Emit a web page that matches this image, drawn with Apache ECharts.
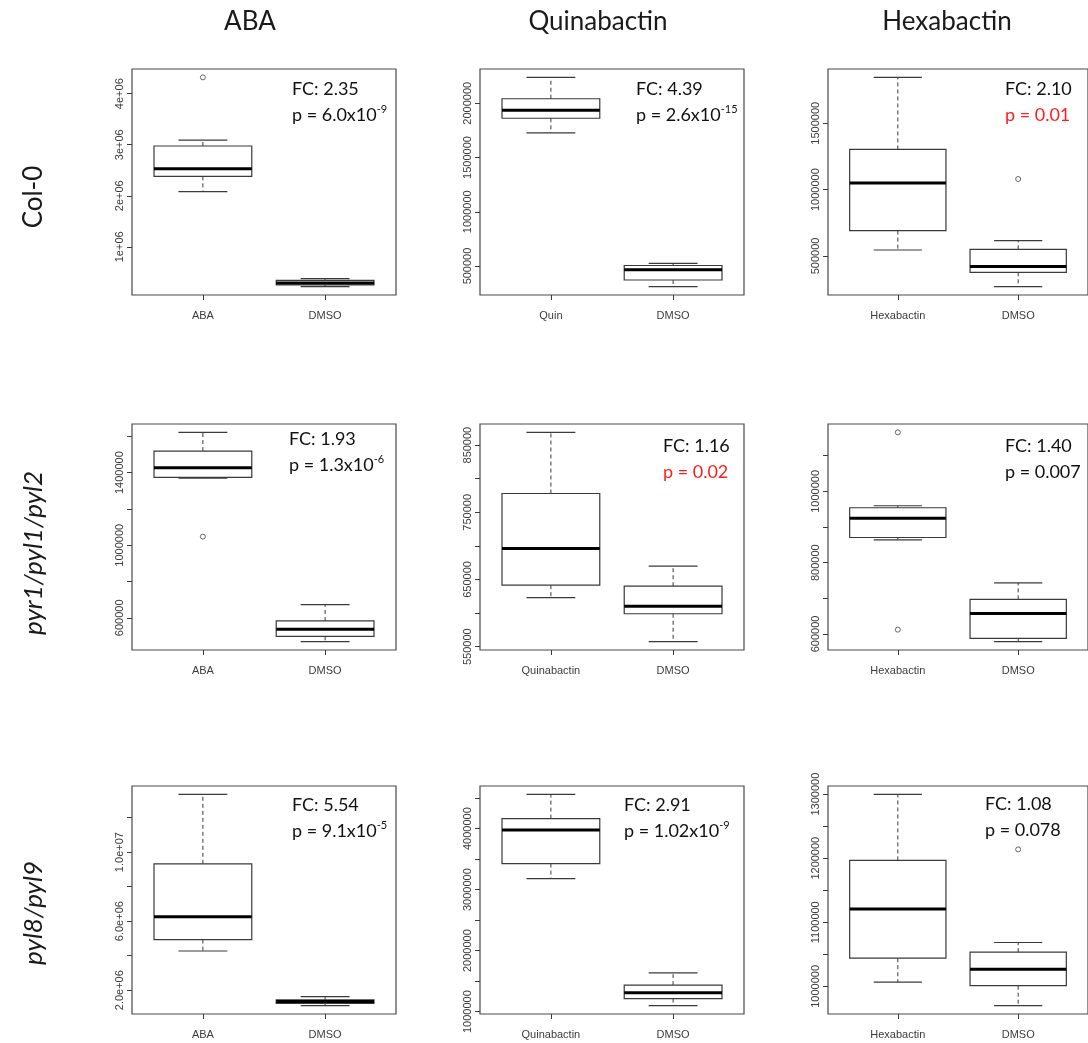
<!DOCTYPE html>
<html><head><meta charset="utf-8">
<script src="https://cdn.jsdelivr.net/npm/echarts@6/dist/echarts.min.js"></script>
<style>html,body{margin:0;padding:0;background:#fff}#c{width:1088px;height:1043px}</style>
</head><body><div id="c"></div>
<script>
// ---------- DATA ----------
const colHeads = ['ABA', 'Quinabactin', 'Hexabactin'];
const rowHeads = ['Col-0', 'pyr1/pyl1/pyl2', 'pyl8/pyl9'];

// categories per panel
const catCol0ABA = ['ABA', 'DMSO'];
const catCol0Quin = ['Quin', 'DMSO'];
const catCol0Hexa = ['Hexabactin', 'DMSO'];
const catPyrABA = ['ABA', 'DMSO'];
const catPyrQuin = ['Quinabactin', 'DMSO'];
const catPyrHexa = ['Hexabactin', 'DMSO'];
const catPylABA = ['ABA', 'DMSO'];
const catPylQuin = ['Quinabactin', 'DMSO'];
const catPylHexa = ['Hexabactin', 'DMSO'];

// box statistics: [lower whisker, Q1, median, Q3, upper whisker] (treatment, DMSO)
const boxCol0ABA = [[2080000, 2380000, 2530000, 2975000, 3090000], [220000, 254000, 290000, 344000, 377000]];
const boxCol0Quin = [[1727000, 1862000, 1936000, 2042000, 2239000], [310000, 371000, 466000, 505000, 524000]];
const boxCol0Hexa = [[545000, 691000, 1050000, 1303000, 1846000], [269000, 377000, 420000, 550000, 615000]];
const boxPyrABA = [[1370000, 1373500, 1427000, 1519000, 1622000], [469000, 498000, 537000, 583000, 673000]];
const boxPyrQuin = [[623000, 641500, 696000, 778000, 869000], [557500, 599000, 610000, 640000, 670000]];
const boxPyrHexa = [[864000, 870500, 924700, 954000, 959600], [578400, 587600, 657000, 697000, 743000]];
const boxPylABA = [[4270000, 4930000, 6250000, 9320000, 13340000], [1110000, 1240000, 1340000, 1435000, 1630000]];
const boxPylQuin = [[3181000, 3428000, 3977000, 4165000, 4561000], [1099000, 1214000, 1307000, 1434000, 1636000]];
const boxPylHexa = [[1006700, 1043900, 1120700, 1196500, 1299500], [970000, 1001000, 1026700, 1053300, 1068400]];

// outliers: [group (1 = treatment, 2 = DMSO), value]
const outCol0ABA = [[1, 4320000]];
const outCol0Quin = [];
const outCol0Hexa = [[2, 1080000]];
const outPyrABA = [[1, 1047500]];
const outPyrQuin = [];
const outPyrHexa = [[1, 1165500], [1, 612000]];
const outPylABA = [];
const outPylQuin = [];
const outPylHexa = [[2, 1213700]];

// y ticks and their labels ('' = tick without label)
const tickCol0ABA = [1000000, 2000000, 3000000, 4000000];
const labCol0ABA = ['1e+06', '2e+06', '3e+06', '4e+06'];
const tickCol0Quin = [500000, 1000000, 1500000, 2000000];
const labCol0Quin = ['500000', '1000000', '1500000', '2000000'];
const tickCol0Hexa = [500000, 1000000, 1500000];
const labCol0Hexa = ['500000', '1000000', '1500000'];
const tickPyrABA = [600000, 800000, 1000000, 1200000, 1400000, 1600000];
const labPyrABA = ['600000', '', '1000000', '', '1400000', ''];
const tickPyrQuin = [550000, 600000, 650000, 700000, 750000, 800000, 850000];
const labPyrQuin = ['550000', '', '650000', '', '750000', '', '850000'];
const tickPyrHexa = [600000, 700000, 800000, 900000, 1000000, 1100000];
const labPyrHexa = ['600000', '', '800000', '', '1000000', ''];
const tickPylABA = [2000000, 4000000, 6000000, 8000000, 10000000, 12000000];
const labPylABA = ['2.0e+06', '', '6.0e+06', '', '1.0e+07', ''];
const tickPylQuin = [1000000, 1500000, 2000000, 2500000, 3000000, 3500000, 4000000, 4500000];
const labPylQuin = ['1000000', '', '2000000', '', '3000000', '', '4000000', ''];
const tickPylHexa = [1000000, 1050000, 1100000, 1150000, 1200000, 1250000, 1300000];
const labPylHexa = ['1000000', '', '1100000', '', '1200000', '', '1300000'];

// annotations
const fcValues = ['2.35', '4.39', '2.10', '1.93', '1.16', '1.40', '5.54', '2.91', '1.08'];
const pBase = ['6.0x10', '2.6x10', '0.01', '1.3x10', '0.02', '0.007', '9.1x10', '1.02x10', '0.078'];
const pExp = ['-9', '-15', '', '-6', '', '', '-5', '-9', ''];
const pRed = [false, false, true, false, true, false, false, false, false];

// ---------- LAYOUT ----------
const colLeft = [132, 480, 828];
const rowTop = [69, 424, 786];
const rowH = [226, 226, 228];
const gridW = 264;
const annX = [292, 636, 1005, 289, 663, 1005, 292, 624, 985];
const annY = [89, 89, 89, 439, 446, 446, 805, 805, 804];
const headX = [250, 598, 947];
const rowLabelY = [197, 553, 913];

const panels = [
  [catCol0ABA, boxCol0ABA, outCol0ABA, tickCol0ABA, labCol0ABA],
  [catCol0Quin, boxCol0Quin, outCol0Quin, tickCol0Quin, labCol0Quin],
  [catCol0Hexa, boxCol0Hexa, outCol0Hexa, tickCol0Hexa, labCol0Hexa],
  [catPyrABA, boxPyrABA, outPyrABA, tickPyrABA, labPyrABA],
  [catPyrQuin, boxPyrQuin, outPyrQuin, tickPyrQuin, labPyrQuin],
  [catPyrHexa, boxPyrHexa, outPyrHexa, tickPyrHexa, labPyrHexa],
  [catPylABA, boxPylABA, outPylABA, tickPylABA, labPylABA],
  [catPylQuin, boxPylQuin, outPylQuin, tickPylQuin, labPylQuin],
  [catPylHexa, boxPylHexa, outPylHexa, tickPylHexa, labPylHexa]
];

const axisFont = 'Liberation Sans, Arial, sans-serif';
const txtFont = 'Lato, "Open Sans", sans-serif';
const lineCol = '#3a3a3a';

function renderBox(params, api) {
  const x = api.value(0);
  const lo = api.value(1), q1 = api.value(2), md = api.value(3), q3 = api.value(4), hi = api.value(5);
  const tl = api.coord([x - 0.4, q3]);
  const br = api.coord([x + 0.4, q1]);
  const cx = api.coord([x, md])[0];
  const yMd = api.coord([x, md])[1];
  const yLo = api.coord([x, lo])[1];
  const yHi = api.coord([x, hi])[1];
  const cL = api.coord([x - 0.2, lo])[0];
  const cR = api.coord([x + 0.2, lo])[0];
  const dash = { stroke: lineCol, lineWidth: 1, lineDash: [4, 3] };
  const solid = { stroke: lineCol, lineWidth: 1.2 };
  return {
    type: 'group',
    children: [
      { type: 'line', shape: { x1: cx, y1: tl[1], x2: cx, y2: yHi }, style: dash },
      { type: 'line', shape: { x1: cx, y1: br[1], x2: cx, y2: yLo }, style: dash },
      { type: 'line', shape: { x1: cL, y1: yHi, x2: cR, y2: yHi }, style: solid },
      { type: 'line', shape: { x1: cL, y1: yLo, x2: cR, y2: yLo }, style: solid },
      { type: 'rect', shape: { x: tl[0], y: tl[1], width: br[0] - tl[0], height: br[1] - tl[1] }, style: { fill: 'rgba(255,255,255,0)', stroke: lineCol, lineWidth: 1.2 } },
      { type: 'line', shape: { x1: tl[0], y1: yMd, x2: br[0], y2: yMd }, style: { stroke: '#000', lineWidth: 3 } }
    ]
  };
}

const grids = [], xAxes = [], yAxes = [], series = [], graphics = [];

panels.forEach((p, i) => {
  const [cats, box, outs, ticks, labs] = p;
  const r = Math.floor(i / 3), c = i % 3;
  grids.push({ left: colLeft[c], top: rowTop[r], width: gridW, height: rowH[r], show: true, borderColor: '#4a4a4a', borderWidth: 1.2, backgroundColor: 'transparent' });
  let vals = [];
  box.forEach(b => vals = vals.concat(b));
  outs.forEach(o => vals.push(o[1]));
  const vmin = Math.min(...vals), vmax = Math.max(...vals);
  const pad = (vmax - vmin) * 0.04;
  xAxes.push({
    type: 'value', gridIndex: i, min: 0.42, max: 2.58,
    axisLine: { show: false }, splitLine: { show: false },
    axisTick: { show: true, length: 5, customValues: [1, 2], lineStyle: { color: lineCol, width: 1 } },
    axisLabel: { customValues: [1, 2], margin: 15, fontSize: 11, fontFamily: axisFont, color: '#3c3c3c',
      formatter: v => cats[Math.round(v) - 1] }
  });
  yAxes.push({
    type: 'value', gridIndex: i, min: vmin - pad, max: vmax + pad,
    axisLine: { show: false }, splitLine: { show: false },
    axisTick: { show: true, length: 5, customValues: ticks, lineStyle: { color: lineCol, width: 1 } },
    axisLabel: { customValues: ticks, rotate: 90, margin: 7, fontSize: 11, fontFamily: axisFont, color: '#3c3c3c',
      formatter: v => {
        let k = 0, best = Infinity;
        ticks.forEach((t, j) => { const d = Math.abs(t - v); if (d < best) { best = d; k = j; } });
        return labs[k];
      } }
  });
  series.push({
    type: 'custom', xAxisIndex: i, yAxisIndex: i, renderItem: renderBox,
    encode: { x: 0, y: [1, 2, 3, 4, 5] },
    data: box.map((b, j) => [j + 1].concat(b)), silent: true
  });
  series.push({
    type: 'scatter', xAxisIndex: i, yAxisIndex: i, symbol: 'circle', symbolSize: 5,
    itemStyle: { color: '#fff', borderColor: '#444', borderWidth: 1 },
    data: outs, silent: true
  });
  graphics.push({
    type: 'text', x: annX[i], y: annY[i],
    style: { text: 'FC: ' + fcValues[i], font: '18px ' + txtFont, fill: '#111', verticalAlign: 'middle', align: 'left' }
  });
  const col = pRed[i] ? '#ff1e1e' : '#111';
  const pTxt = pExp[i] ? '{a|p = ' + pBase[i] + '}{s|' + pExp[i] + '}' : '{a|p = ' + pBase[i] + '}';
  graphics.push({
    type: 'text', x: annX[i], y: annY[i] + 25,
    style: {
      text: pTxt, verticalAlign: 'middle', align: 'left',
      rich: {
        a: { fontSize: 18, fontFamily: txtFont, fill: col, color: col, lineHeight: 21, verticalAlign: 'bottom' },
        s: { fontSize: 11, fontFamily: txtFont, fill: col, color: col, lineHeight: 12, verticalAlign: 'top' }
      }
    }
  });
});

colHeads.forEach((h, c) => {
  graphics.push({ type: 'text', x: headX[c], y: 22, style: { text: h, font: '26px ' + txtFont, fill: '#1a1a1a', align: 'center', verticalAlign: 'middle' } });
});
rowHeads.forEach((h, r) => {
  graphics.push({ type: 'text', x: 34, y: rowLabelY[r], rotation: Math.PI / 2,
    style: { text: h, font: (r === 0 ? '' : 'italic ') + '26px ' + txtFont, fill: '#1a1a1a', align: 'center', verticalAlign: 'middle' } });
});

const chart = echarts.init(document.getElementById('c'), null, { renderer: 'canvas' });
chart.setOption({
  animation: false,
  backgroundColor: '#fff',
  grid: grids, xAxis: xAxes, yAxis: yAxes, series: series,
  graphic: { elements: graphics }
});
</script></body></html>
